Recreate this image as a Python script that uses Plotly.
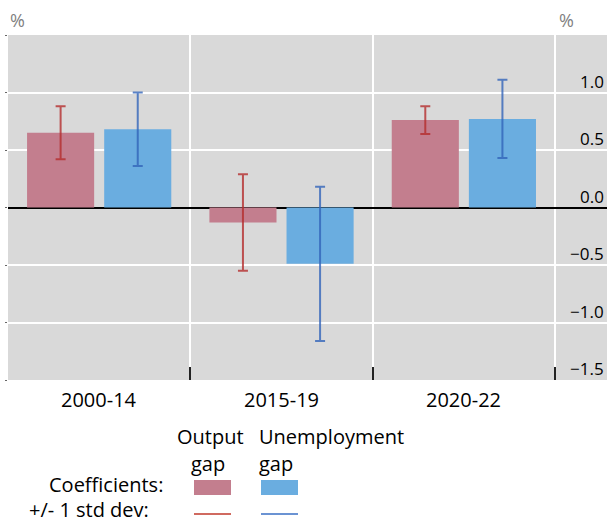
import plotly.graph_objects as go

# Periods and regression coefficients (percentage points)
periods = ["2000-14", "2015-19", "2020-22"]
output_gap_coef = [0.65, -0.13, 0.76]
output_gap_sd = [0.23, 0.42, 0.12]
unemp_gap_coef = [0.68, -0.49, 0.77]
unemp_gap_sd = [0.32, 0.67, 0.34]
y_ticks = [1.0, 0.5, 0.0, -0.5, -1.0, -1.5]

RED_BAR = "#C37E8E"
BLUE_BAR = "#6AADE0"
RED_LINE = "rgba(180,45,45,0.8)"
BLUE_LINE = "rgba(50,100,185,0.8)"
FONT = "Open Sans"

W, H = 607, 523
PL, PR, PT, PB = 8, 607, 35, 380


def px_x(x):
    return (x - PL) / (PR - PL)


def px_y(y):
    return (PB - y) / (PB - PT)


xpos = list(range(len(periods)))

fig = go.Figure()
fig.add_trace(go.Bar(
    x=xpos, y=output_gap_coef, name="Output gap",
    marker=dict(color=RED_BAR, line=dict(width=0)),
    error_y=dict(type="data", array=output_gap_sd, color=RED_LINE,
                 thickness=2, width=5),
))
fig.add_trace(go.Bar(
    x=xpos, y=unemp_gap_coef, name="Unemployment gap",
    marker=dict(color=BLUE_BAR, line=dict(width=0)),
    error_y=dict(type="data", array=unemp_gap_sd, color=BLUE_LINE,
                 thickness=2, width=5),
))

annotations = []
# category labels under the axis
for i, p in enumerate(periods):
    annotations.append(dict(
        x=i, xref="x", y=0, yref="paper", yanchor="top", xanchor="center",
        text=p, showarrow=False, yshift=-4,
        font=dict(family=FONT, size=20, color="#000000"),
    ))
# value labels, right aligned, sitting on their gridlines
for v in y_ticks:
    label = f"{v:.1f}".replace("-", "\u2212")
    annotations.append(dict(
        x=px_x(606), xref="paper", y=v, yref="y", xanchor="right",
        yanchor="bottom", text=label, showarrow=False, yshift=-2,
        font=dict(family=FONT, size=17, color="#000000"),
    ))
# unit labels
for xp in (8, 557):
    annotations.append(dict(
        x=px_x(xp), xref="paper", y=1, yref="paper", xanchor="left",
        yanchor="bottom", text="%", showarrow=False, yshift=1,
        font=dict(family=FONT, size=18, color="#7F7F7F"),
    ))

# legend table: (text, x px, y px, x anchor, y anchor)
legend_font = dict(family=FONT, size=20, color="#000000")
legend_text = [
    ("Output", 210, 450, "center", "bottom"),
    ("gap", 208, 450, "center", "top"),
    ("Unemployment", 259, 450, "left", "bottom"),
    ("gap", 259, 450, "left", "top"),
    ("Coefficients:", 163, 484, "right", "middle"),
    ("+/- 1 std dev:", 149, 522.5, "right", "bottom"),
]
for txt, xp, yp, xa, ya in legend_text:
    annotations.append(dict(
        x=px_x(xp), xref="paper", y=px_y(yp), yref="paper",
        xanchor=xa, yanchor=ya, text=txt, showarrow=False,
        borderpad=0, borderwidth=0, font=legend_font,
    ))

shapes = [
    dict(type="rect", xref="paper", yref="paper",
         x0=px_x(194), x1=px_x(231), y0=px_y(495), y1=px_y(480),
         fillcolor=RED_BAR, line=dict(width=0)),
    dict(type="rect", xref="paper", yref="paper",
         x0=px_x(261), x1=px_x(298), y0=px_y(495), y1=px_y(480),
         fillcolor=BLUE_BAR, line=dict(width=0)),
    dict(type="line", xref="paper", yref="paper",
         x0=px_x(194), x1=px_x(231), y0=px_y(514), y1=px_y(514),
         line=dict(color="#C0392B", width=1.3)),
    dict(type="line", xref="paper", yref="paper",
         x0=px_x(261), x1=px_x(298), y0=px_y(514), y1=px_y(514),
         line=dict(color="#3A6FC4", width=1.3)),
]

fig.update_layout(
    width=W, height=H,
    margin=dict(l=PL, r=W - PR, t=PT, b=H - PB, pad=0),
    paper_bgcolor="#FFFFFF",
    plot_bgcolor="#D9D9D9",
    barmode="group",
    bargap=0.154,
    bargroupgap=0.13,
    showlegend=False,
    font=dict(family=FONT, size=17, color="#000000"),
    annotations=annotations,
    shapes=shapes,
    xaxis=dict(
        range=[-0.5, 2.785],
        tickmode="array",
        tickvals=[-0.5, 0.5, 1.5, 2.5],
        showticklabels=False,
        ticks="inside", ticklen=13, tickwidth=2, tickcolor="#222222",
        showgrid=True, gridcolor="#FFFFFF", gridwidth=2,
        zeroline=False, showline=False, fixedrange=True,
    ),
    yaxis=dict(
        range=[-1.5, 1.5],
        tickmode="array",
        tickvals=y_ticks + [1.5],
        showticklabels=False,
        ticks="outside", ticklen=2, tickwidth=1, tickcolor="#666666",
        showgrid=True, gridcolor="#FFFFFF", gridwidth=2,
        zeroline=True, zerolinecolor="#000000", zerolinewidth=1.5,
        showline=False, fixedrange=True,
    ),
)

fig.write_html("out.html")
